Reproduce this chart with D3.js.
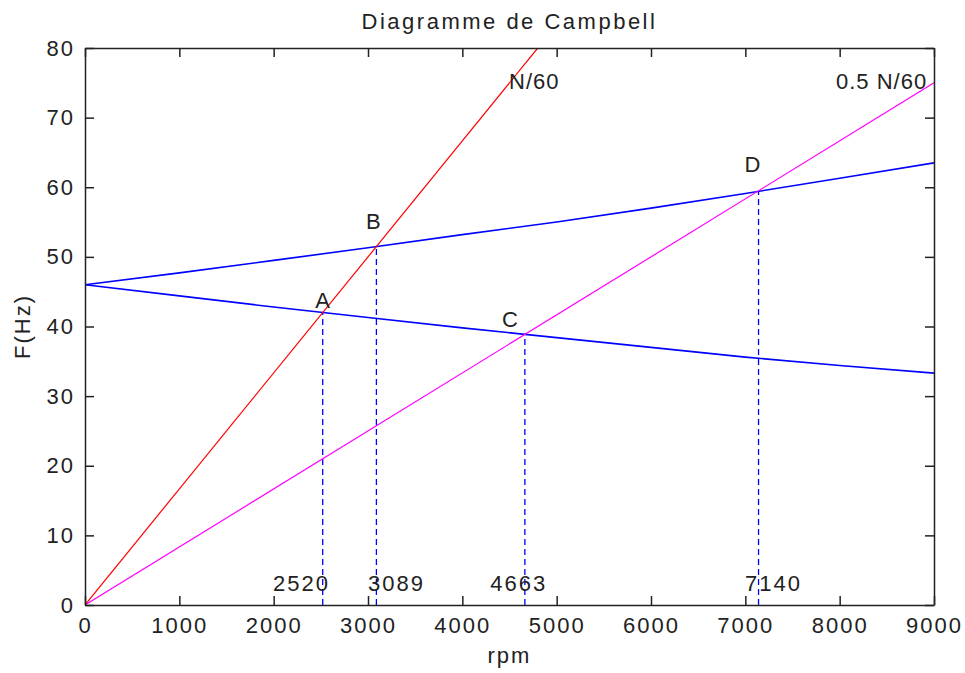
<!DOCTYPE html>
<html>
<head>
<meta charset="utf-8">
<script src="https://cdn.jsdelivr.net/npm/d3@7"></script>
<style>
  body { margin: 0; background: #fff; }
  text { font-family: "Liberation Sans", Arial, sans-serif; fill: #222; }
</style>
</head>
<body>
<div class="container"></div>
<script>
// Campbell diagram data

var rpm = [0, 1000, 2000, 3000, 4000, 5000, 6000, 7000, 8000, 9000]
var modeForward = [46, 47.7, 49.5, 51.3, 53.2, 55.0, 57.0, 59.1, 61.3, 63.5]
var modeBackward = [46, 44.4, 42.8, 41.3, 39.8, 38.4, 37.0, 35.6, 34.4, 33.3]

var lineN60 = [[0, 0], [4800, 80]]
var lineHalfN60 = [[0, 0], [9000, 75]]

var crossNames = ['A', 'B', 'C', 'D']
var crossRpm = [2520, 3089, 4663, 7140]
var crossF = [42.0, 51.5, 38.9, 59.5]
var crossLabelRpm = [2440, 2980, 4420, 6990]
var crossLabelF = [42.6, 54.0, 40.0, 62.2]
var valueLabelRpm = [1993, 3000, 4296, 6997]
var valueLabelF = 2.0

var lineNames = ['N/60', '0.5 N/60']
var lineNameRpm = [4495, 7961]
var lineNameF = 74.1

var xTicks = [0, 1000, 2000, 3000, 4000, 5000, 6000, 7000, 8000, 9000]
var yTicks = [0, 10, 20, 30, 40, 50, 60, 70, 80]

var opts = {
  width: 965,
  height: 673,
  margin: {top: 48, right: 31, bottom: 68, left: 85},
  tick: 9
}

var innerW = opts.width - opts.margin.left - opts.margin.right
var innerH = opts.height - opts.margin.top - opts.margin.bottom

var svg = d3.select('.container').append('svg')
    .attr('width', opts.width)
    .attr('height', opts.height)
    .style('background-color', 'white')

var g = svg.append('g')
    .attr('transform', 'translate(' + opts.margin.left + ',' + opts.margin.top + ')')

var x = d3.scaleLinear().domain([0, 9000]).range([0, innerW])
var y = d3.scaleLinear().domain([0, 80]).range([innerH, 0])

var line = d3.line()
    .x(function (d) { return x(d[0]) })
    .y(function (d) { return y(d[1]) })

// clip so nothing goes over the box
svg.append('clipPath').attr('id', 'plotclip')
  .append('rect').attr('width', innerW).attr('height', innerH)

var plot = g.append('g').attr('clip-path', 'url(#plotclip)')

// dashed verticals first
plot.selectAll('.drop').data(crossRpm).enter().append('line')
    .attr('class', 'drop')
    .attr('x1', function (d) { return x(d) })
    .attr('x2', function (d) { return x(d) })
    .attr('y1', y(0))
    .attr('y2', function (d, i) { return y(crossF[i]) })
    .attr('stroke', '#0000ff')
    .attr('stroke-width', 1.3)
    .attr('stroke-dasharray', '6,4')

var modes = [modeForward, modeBackward].map(function (vals) {
  return rpm.map(function (r, i) { return [r, vals[i]] })
})

plot.selectAll('.mode').data(modes).enter().append('path')
    .attr('class', 'mode')
    .attr('d', line)
    .attr('fill', 'none')
    .attr('stroke', '#0000ff')
    .attr('stroke-width', 1.6)

plot.append('path').datum(lineN60)
    .attr('d', line)
    .attr('fill', 'none')
    .attr('stroke', '#ff0000')
    .attr('stroke-width', 1.2)

plot.append('path').datum(lineHalfN60)
    .attr('d', line)
    .attr('fill', 'none')
    .attr('stroke', '#ff00ff')
    .attr('stroke-width', 1.2)

// axes, ticks inside on all four sides
var fmt = d3.format('d')
var xAxis = g.append('g').attr('transform', 'translate(0,' + innerH + ')')
    .call(d3.axisBottom(x).tickValues(xTicks).tickFormat(fmt).tickSizeInner(-opts.tick).tickSizeOuter(0).tickPadding(12))
var xTop = g.append('g')
    .call(d3.axisTop(x).tickValues(xTicks).tickFormat('').tickSizeInner(-opts.tick).tickSizeOuter(0))
var yAxis = g.append('g')
    .call(d3.axisLeft(y).tickValues(yTicks).tickFormat(fmt).tickSizeInner(-opts.tick).tickSizeOuter(0).tickPadding(10))
var yRight = g.append('g').attr('transform', 'translate(' + innerW + ',0)')
    .call(d3.axisRight(y).tickValues(yTicks).tickFormat('').tickSizeInner(-opts.tick).tickSizeOuter(0))

g.selectAll('.domain, .tick line').attr('stroke', '#222').attr('stroke-width', 1.5)
g.selectAll('.tick text')
    .style('font-size', '22px')
    .style('letter-spacing', '2px')
    .attr('fill', '#222')

// annotations
g.selectAll('.cross').data(crossNames).enter().append('text')
    .attr('class', 'cross')
    .attr('x', function (d, i) { return x(crossLabelRpm[i]) })
    .attr('y', function (d, i) { return y(crossLabelF[i]) })
    .style('font-size', '22px')
    .text(function (d) { return d })

g.selectAll('.val').data(crossRpm).enter().append('text')
    .attr('class', 'val')
    .attr('x', function (d, i) { return x(valueLabelRpm[i]) })
    .attr('y', y(valueLabelF))
    .style('font-size', '22px')
    .style('letter-spacing', '2px')
    .text(function (d) { return d })

g.selectAll('.lname').data(lineNames).enter().append('text')
    .attr('class', 'lname')
    .attr('x', function (d, i) { return x(lineNameRpm[i]) })
    .attr('y', y(lineNameF))
    .style('font-size', '22px')
    .style('letter-spacing', '1px')
    .text(function (d) { return d })

// titles
svg.append('text')
    .attr('x', opts.margin.left + innerW / 2)
    .attr('y', 29)
    .attr('text-anchor', 'middle')
    .style('font-size', '22px')
    .style('letter-spacing', '2.5px')
    .text('Diagramme de Campbell')

svg.append('text')
    .attr('x', opts.margin.left + innerW / 2)
    .attr('y', 663)
    .attr('text-anchor', 'middle')
    .style('font-size', '22px')
    .style('letter-spacing', '2px')
    .text('rpm')

svg.append('text')
    .attr('transform', 'translate(30,' + (opts.margin.top + innerH / 2) + ') rotate(-90)')
    .attr('text-anchor', 'middle')
    .style('font-size', '22px')
    .style('letter-spacing', '2px')
    .text('F(Hz)')
</script>
</body>
</html>
